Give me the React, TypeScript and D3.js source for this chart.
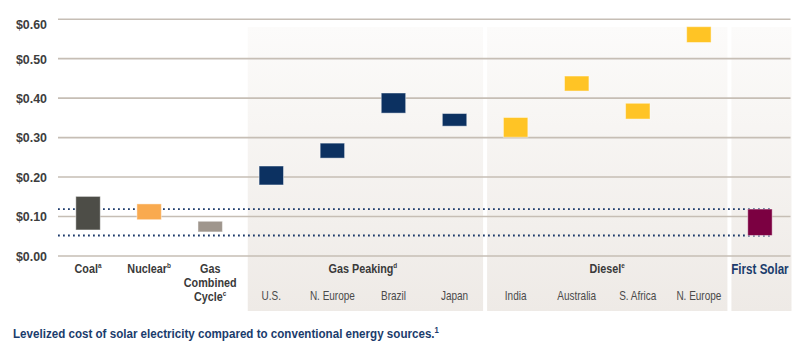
import React from "react";
import * as d3 from "d3";

const categoryIds = ["coal", "nuclear", "gascc", "gp_us", "gp_neu", "gp_br", "gp_jp", "d_in", "d_au", "d_sa", "d_neu", "fs"];
const lowValues = [0.066, 0.092, 0.061, 0.18, 0.248, 0.362, 0.329, 0.301, 0.418, 0.347, 0.541, 0.052];
const highValues = [0.151, 0.132, 0.088, 0.228, 0.286, 0.413, 0.361, 0.351, 0.456, 0.387, 0.581, 0.119];
const groupOf = ["coal", "nuclear", "gascc", "peak", "peak", "peak", "peak", "diesel", "diesel", "diesel", "diesel", "solar"];
const subLabels = ["", "", "", "U.S.", "N. Europe", "Brazil", "Japan", "India", "Australia", "S. Africa", "N. Europe", ""];
const yTicks = [0, 0.1, 0.2, 0.3, 0.4, 0.5, 0.6];
const tickLabels = ["$0.00", "$0.10", "$0.20", "$0.30", "$0.40", "$0.50", "$0.60"];
const panels = [
  { ids: ["gp_us", "gp_jp"], label: "Gas Peaking", sup: "d" },
  { ids: ["d_in", "d_neu"], label: "Diesel", sup: "e" },
  { ids: ["fs", "fs"], label: "First Solar", sup: "" },
];
const singleLabels = [
  { id: "coal", lines: ["Coal"], sup: "a" },
  { id: "nuclear", lines: ["Nuclear"], sup: "b" },
  { id: "gascc", lines: ["Gas", "Combined", "Cycle"], sup: "c" },
];
const caption = "Levelized cost of solar electricity compared to conventional energy sources.";

const colors: Record<string, string> = {
  coal: "#4d4d47",
  nuclear: "#f9aa4f",
  gascc: "#9f968d",
  peak: "#0c3161",
  diesel: "#ffc425",
  solar: "#7b0041",
};

const W = 800;
const H = 350;
const FONT = "'Liberation Sans', Arial, sans-serif";
const SX = 0.8;

export default function App() {
  const x = d3.scaleBand<string>().domain(categoryIds).range([57.5, 790.5]).paddingInner(0.6).paddingOuter(0.3);
  const y = d3.scaleLinear().domain([0, 0.6]).range([256, 19.2]);
  const step = x.step();
  const bw = x.bandwidth();
  const cx = (id: string) => (x(id) as number) + bw / 2;
  const fsIdx = categoryIds.indexOf("fs");
  const dotRight = cx("fs") + bw / 2;

  const panelRects = panels.map((p, i) => {
    let left = cx(p.ids[0]) - step / 2 + 2;
    let right = cx(p.ids[1]) + step / 2 - 2;
    if (i === 0) left += 5;
    if (i === panels.length - 1) right += 3;
    return { ...p, left, right, center: (cx(p.ids[0]) + cx(p.ids[1])) / 2 };
  });

  const tr = (px: number, py: number, s = SX) => `translate(${px},${py}) scale(${s},1)`;

  return (
    <svg width={W} height={H} style={{ position: "absolute", left: 0, top: 0, background: "#fff" }}>
      <defs>
        <linearGradient id="pg" x1="0" y1="0" x2="0" y2="1">
          <stop offset="0" stopColor="#fcfbfa" />
          <stop offset="1" stopColor="#eeeae6" />
        </linearGradient>
      </defs>
      {panelRects.map((p) => (
        <rect key={p.label} x={p.left} y={27} width={p.right - p.left} height={311 - 27} fill="url(#pg)" />
      ))}
      {yTicks.map((t) => (
        <line key={t} x1={58} x2={790.5} y1={y(t)} y2={y(t)} stroke="#c6beb5" strokeWidth={1.6} />
      ))}
      {yTicks.map((t, i) => (
        <text
          key={"l" + t}
          transform={tr(47, Math.max(y(t), 24), 0.92)}
          dy="0.36em"
          textAnchor="end"
          fontFamily={FONT}
          fontWeight="bold"
          fontSize={13.5}
          fill="#3d3d3d"
        >
          {tickLabels[i]}
        </text>
      ))}
      {[lowValues[fsIdx], highValues[fsIdx]].map((v, i) => (
        <line
          key={"dot" + i}
          x1={58}
          x2={dotRight}
          y1={y(v)}
          y2={y(v)}
          stroke="#1c3a6b"
          strokeWidth={1.8}
          strokeDasharray="1.8 3.2"
        />
      ))}
      {categoryIds.map((id, i) => (
        <rect
          key={id}
          x={x(id)}
          y={y(highValues[i])}
          width={bw}
          height={y(lowValues[i]) - y(highValues[i])}
          fill={colors[groupOf[i]]}
          stroke="#ffffff"
          strokeOpacity={0.45}
          strokeWidth={1}
        />
      ))}
      {singleLabels.map((s) => (
        <text
          key={s.id}
          transform={tr(cx(s.id), 273)}
          textAnchor="middle"
          fontFamily={FONT}
          fontWeight="bold"
          fontSize={13.5}
          fill="#3a3a3a"
        >
          {s.lines.map((ln, j) => (
            <tspan key={j} x={0} dy={j === 0 ? 0 : 14}>
              {ln}
              {j === s.lines.length - 1 ? (
                <tspan fontSize={8} dy={-5}>
                  {s.sup}
                </tspan>
              ) : null}
            </tspan>
          ))}
        </text>
      ))}
      {panelRects.map((p) => (
        <text
          key={"g" + p.label}
          transform={tr(p.center, p.sup ? 273 : 274)}
          textAnchor="middle"
          fontFamily={FONT}
          fontWeight="bold"
          fontSize={p.sup ? 13.5 : 14.5}
          fill={p.sup ? "#3a3a3a" : "#1b3c6c"}
        >
          {p.label}
          {p.sup ? (
            <tspan fontSize={8} dy={-5}>
              {p.sup}
            </tspan>
          ) : null}
        </text>
      ))}
      {categoryIds.map((id, i) =>
        subLabels[i] ? (
          <text
            key={"s" + id}
            transform={tr(cx(id), 300)}
            textAnchor="middle"
            fontFamily={FONT}
            fontSize={12.5}
            fill="#4a4a4a"
          >
            {subLabels[i]}
          </text>
        ) : null
      )}
      <text transform={tr(13, 338, 0.86)} fontFamily={FONT} fontWeight="bold" fontSize={13.5} fill="#1b3c6c">
        {caption}
        <tspan fontSize={9} dy={-5}>
          1
        </tspan>
      </text>
    </svg>
  );
}
